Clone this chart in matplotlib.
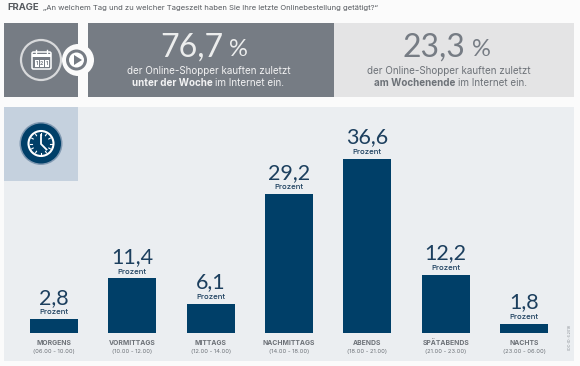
import math
import matplotlib
matplotlib.use("Agg")
import matplotlib.pyplot as plt
from matplotlib.patches import Circle, Rectangle, Polygon, FancyBboxPatch

plt.rcParams['font.family'] = ['Inter', 'DejaVu Sans']

# Daten
zeiten = ["MORGENS", "VORMITTAGS", "MITTAGS", "NACHMITTAGS", "ABENDS", "SPÄTABENDS", "NACHTS"]
spannen = ["(06.00 - 10.00)", "(10.00 - 12.00)", "(12.00 - 14.00)", "(14.00 - 18.00)",
           "(18.00 - 21.00)", "(21.00 - 23.00)", "(23.00 - 06.00)"]
werte = [2.8, 11.4, 6.1, 29.2, 36.6, 12.2, 1.8]
werktag = "76,7"
wochenende = "23,3"

BLAU = "#003f68"
GRAU = "#767c84"
HELL = "#e4e4e5"
TEXT = "#6d7278"
ZAHL = "#1c3f5e"

W, H = 580, 366
fig = plt.figure(figsize=(W / 100, H / 100), dpi=100, facecolor="#fbfbfb")

# Hintergrund in Pixelkoordinaten
bg = fig.add_axes([0, 0, 1, 1])
bg.set_xlim(0, W)
bg.set_ylim(H, 0)
bg.axis("off")

bg.add_patch(Rectangle((4, 23), 74, 74, fc=GRAU, ec="none"))
bg.add_patch(Rectangle((88, 23), 246, 74, fc=GRAU, ec="none"))
bg.add_patch(Rectangle((334, 23), 240, 74, fc=HELL, ec="none"))
bg.add_patch(Rectangle((4, 107), 570, 254, fc="#ebeef1", ec="none"))
bg.add_patch(Rectangle((4, 107), 74, 74, fc="#c5d1de", ec="none"))

# Frage
bg.text(7, 8, "FRAGE", fontsize=6.8, fontweight="bold", color="#55595e", va="center")
bg.text(43, 8, "„An welchem Tag und zu welcher Tageszeit haben Sie Ihre letzte Onlinebestellung getätigt?“",
        fontsize=5.5, color="#55595e", va="center")

# Kalender-Symbol
bg.add_patch(Circle((41, 60), 20, fc="none", ec="#d8d9db", lw=1.6))
bg.add_patch(FancyBboxPatch((32, 52), 19, 17, boxstyle="round,pad=0,rounding_size=1.5",
                            fc="none", ec="white", lw=1.1))
bg.add_patch(Rectangle((32, 54), 19, 3, fc="white", ec="none"))
bg.plot([36, 36], [50, 54], color="white", lw=1)
bg.plot([47, 47], [50, 54], color="white", lw=1)
for kx, kz in zip([36.5, 41.5, 46.5], ["1", "2", "1"]):
    bg.add_patch(Rectangle((kx - 2, 60), 4, 6.5, fc="white", ec="none"))
    bg.text(kx, 63.3, kz, fontsize=3.8, color=GRAU, ha="center", va="center", fontweight="bold")

# Pfeil
bg.add_patch(Rectangle((78, 23), 10, 74, fc="#fbfbfb", ec="none"))
bg.add_patch(Circle((78, 60), 16, fc="#fbfbfb", ec="none"))
bg.add_patch(Circle((76.5, 60), 10.5, fc=GRAU, ec="none"))
bg.add_patch(Circle((76.5, 60), 7.5, fc="white", ec="none"))
bg.add_patch(Polygon([[74, 55], [74, 65], [82, 60]], fc=GRAU, ec="none"))

# Uhr-Symbol
UX, UY = 41, 143.5
bg.add_patch(Circle((UX, UY), 21.5, fc="#7f98b1", ec="none"))
bg.add_patch(Circle((UX, UY), 20, fc=BLAU, ec="none"))
bg.add_patch(Circle((UX, UY), 12.5, fc="none", ec="white", lw=1.5))
for stunde in range(12):
    a = stunde * math.pi / 6
    bg.plot([UX + 9 * math.sin(a), UX + 10.8 * math.sin(a)],
            [UY - 9 * math.cos(a), UY - 10.8 * math.cos(a)], color="white", lw=0.8)
bg.plot([UX, UX, UX + 5.5], [UY - 8.5, UY + 0.5, UY + 6], color="white", lw=1.3)

# Kennzahlen oben
for zahl, x_rechts, x_proz, cx, farbe, c, fett, x_fett in [
        (werktag, 223, 229, 209, "#eceded", "#f2f2f3", "unter der Woche", 132),
        (wochenende, 465, 472, 449, GRAU, TEXT, "am Wochenende", 374)]:
    bg.text(x_rechts, 57, zahl, fontsize=23, color=farbe, ha="right", va="baseline",
            family=["Lato", "DejaVu Sans"])
    bg.text(x_proz, 56, "%", fontsize=17, color=farbe, ha="left", va="baseline",
            family=["Lato", "DejaVu Sans"])
    bg.text(cx, 71, "der Online-Shopper kauften zuletzt", fontsize=7.1, color=c, ha="center", va="center")
    t1 = bg.text(x_fett, 83, fett, fontsize=7.1, color=c, ha="left", va="center", fontweight="bold")
    ext = t1.get_window_extent(fig.canvas.get_renderer())
    bg.text(ext.x1 + 2.5, 83, "im Internet ein.", fontsize=7.1, color=c, ha="left", va="center")

bg.text(570, 338, "IDC-ID: 6.2018", fontsize=2.6, color="#8a8f95", rotation=90, ha="center", va="center")

# Balken
ax = fig.add_axes([4 / W, (H - 332.5) / H, 570 / W, (332.5 - 107) / H])
ax.patch.set_alpha(0)
x = list(range(len(werte)))
ax.set_xlim(-0.638, 6.638)
ax.set_ylim(0, 47.6)
balken = ax.bar(x, werte, width=0.61, color=BLAU)
ax.axis("off")

for i, b in enumerate(balken):
    h = b.get_height()
    ax.annotate("Prozent", (i, h), xytext=(0, 5.0), textcoords="offset points", ha="center", va="center",
                fontsize=5.6, color=ZAHL, fontweight="medium")
    ax.annotate(f"{h:.1f}".replace(".", ","), (i, h), xytext=(0, 11.2), textcoords="offset points",
                ha="center", va="baseline", fontsize=15.5, color=ZAHL, family=["Lato", "DejaVu Sans"])
    ax.annotate(zeiten[i], (i, 0), xytext=(0, -7.4), textcoords="offset points", ha="center", va="center",
                fontsize=4.9, color=TEXT, fontweight="bold")
    ax.annotate(spannen[i], (i, 0), xytext=(0, -13.9), textcoords="offset points", ha="center", va="center",
                fontsize=4.2, color=TEXT)

fig.savefig("out.png", dpi=100, facecolor=fig.get_facecolor())
plt.close()
